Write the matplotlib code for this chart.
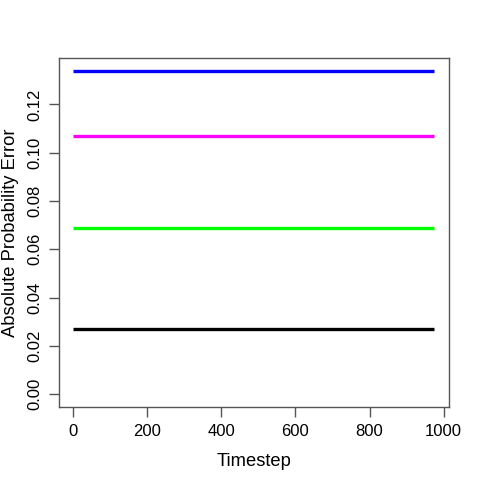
import numpy as np
import matplotlib
matplotlib.use("Agg")
import matplotlib.pyplot as plt

plt.rcParams["font.family"] = ["Liberation Sans", "DejaVu Sans"]

# data
timesteps = np.arange(1, 976)
series_levels = [0.1338, 0.1067, 0.0688, 0.0271]
series_colors = ["#0000FF", "#FF00FF", "#00FF00", "#000000"]
x_ticks = [0, 200, 400, 600, 800, 1000]
y_ticks = [0.00, 0.02, 0.04, 0.06, 0.08, 0.10, 0.12]

fig = plt.figure(figsize=(4.8, 4.8), dpi=100)
ax = fig.add_axes([0.123, 0.152, 0.812, 0.727])

for level, col in zip(series_levels, series_colors):
    ax.plot(timesteps, np.full(len(timesteps), level), color=col, lw=2.4,
            solid_capstyle="butt")

xr = timesteps.max() - timesteps.min()
ax.set_xlim(timesteps.min() - 0.04 * xr, timesteps.max() + 0.04 * xr)
ymax = max(series_levels)
ax.set_ylim(-0.04 * ymax, ymax * 1.04)

ax.set_xticks(x_ticks)
ax.set_yticks(y_ticks)
ax.set_xticklabels([str(t) for t in x_ticks])
ax.set_yticklabels([f"{t:.2f}" for t in y_ticks], rotation=90, va="center")
ax.tick_params(direction="out", length=7, width=1, labelsize=12, pad=5,
               color="#555555")
for s in ax.spines.values():
    s.set_color("#555555")
    s.set_linewidth(1)

ax.set_xlabel("Timestep", fontsize=13.2, labelpad=10)
ax.set_ylabel("Absolute Probability Error", fontsize=13.2, labelpad=6)

fig.savefig("out.png", dpi=100, facecolor="white")
